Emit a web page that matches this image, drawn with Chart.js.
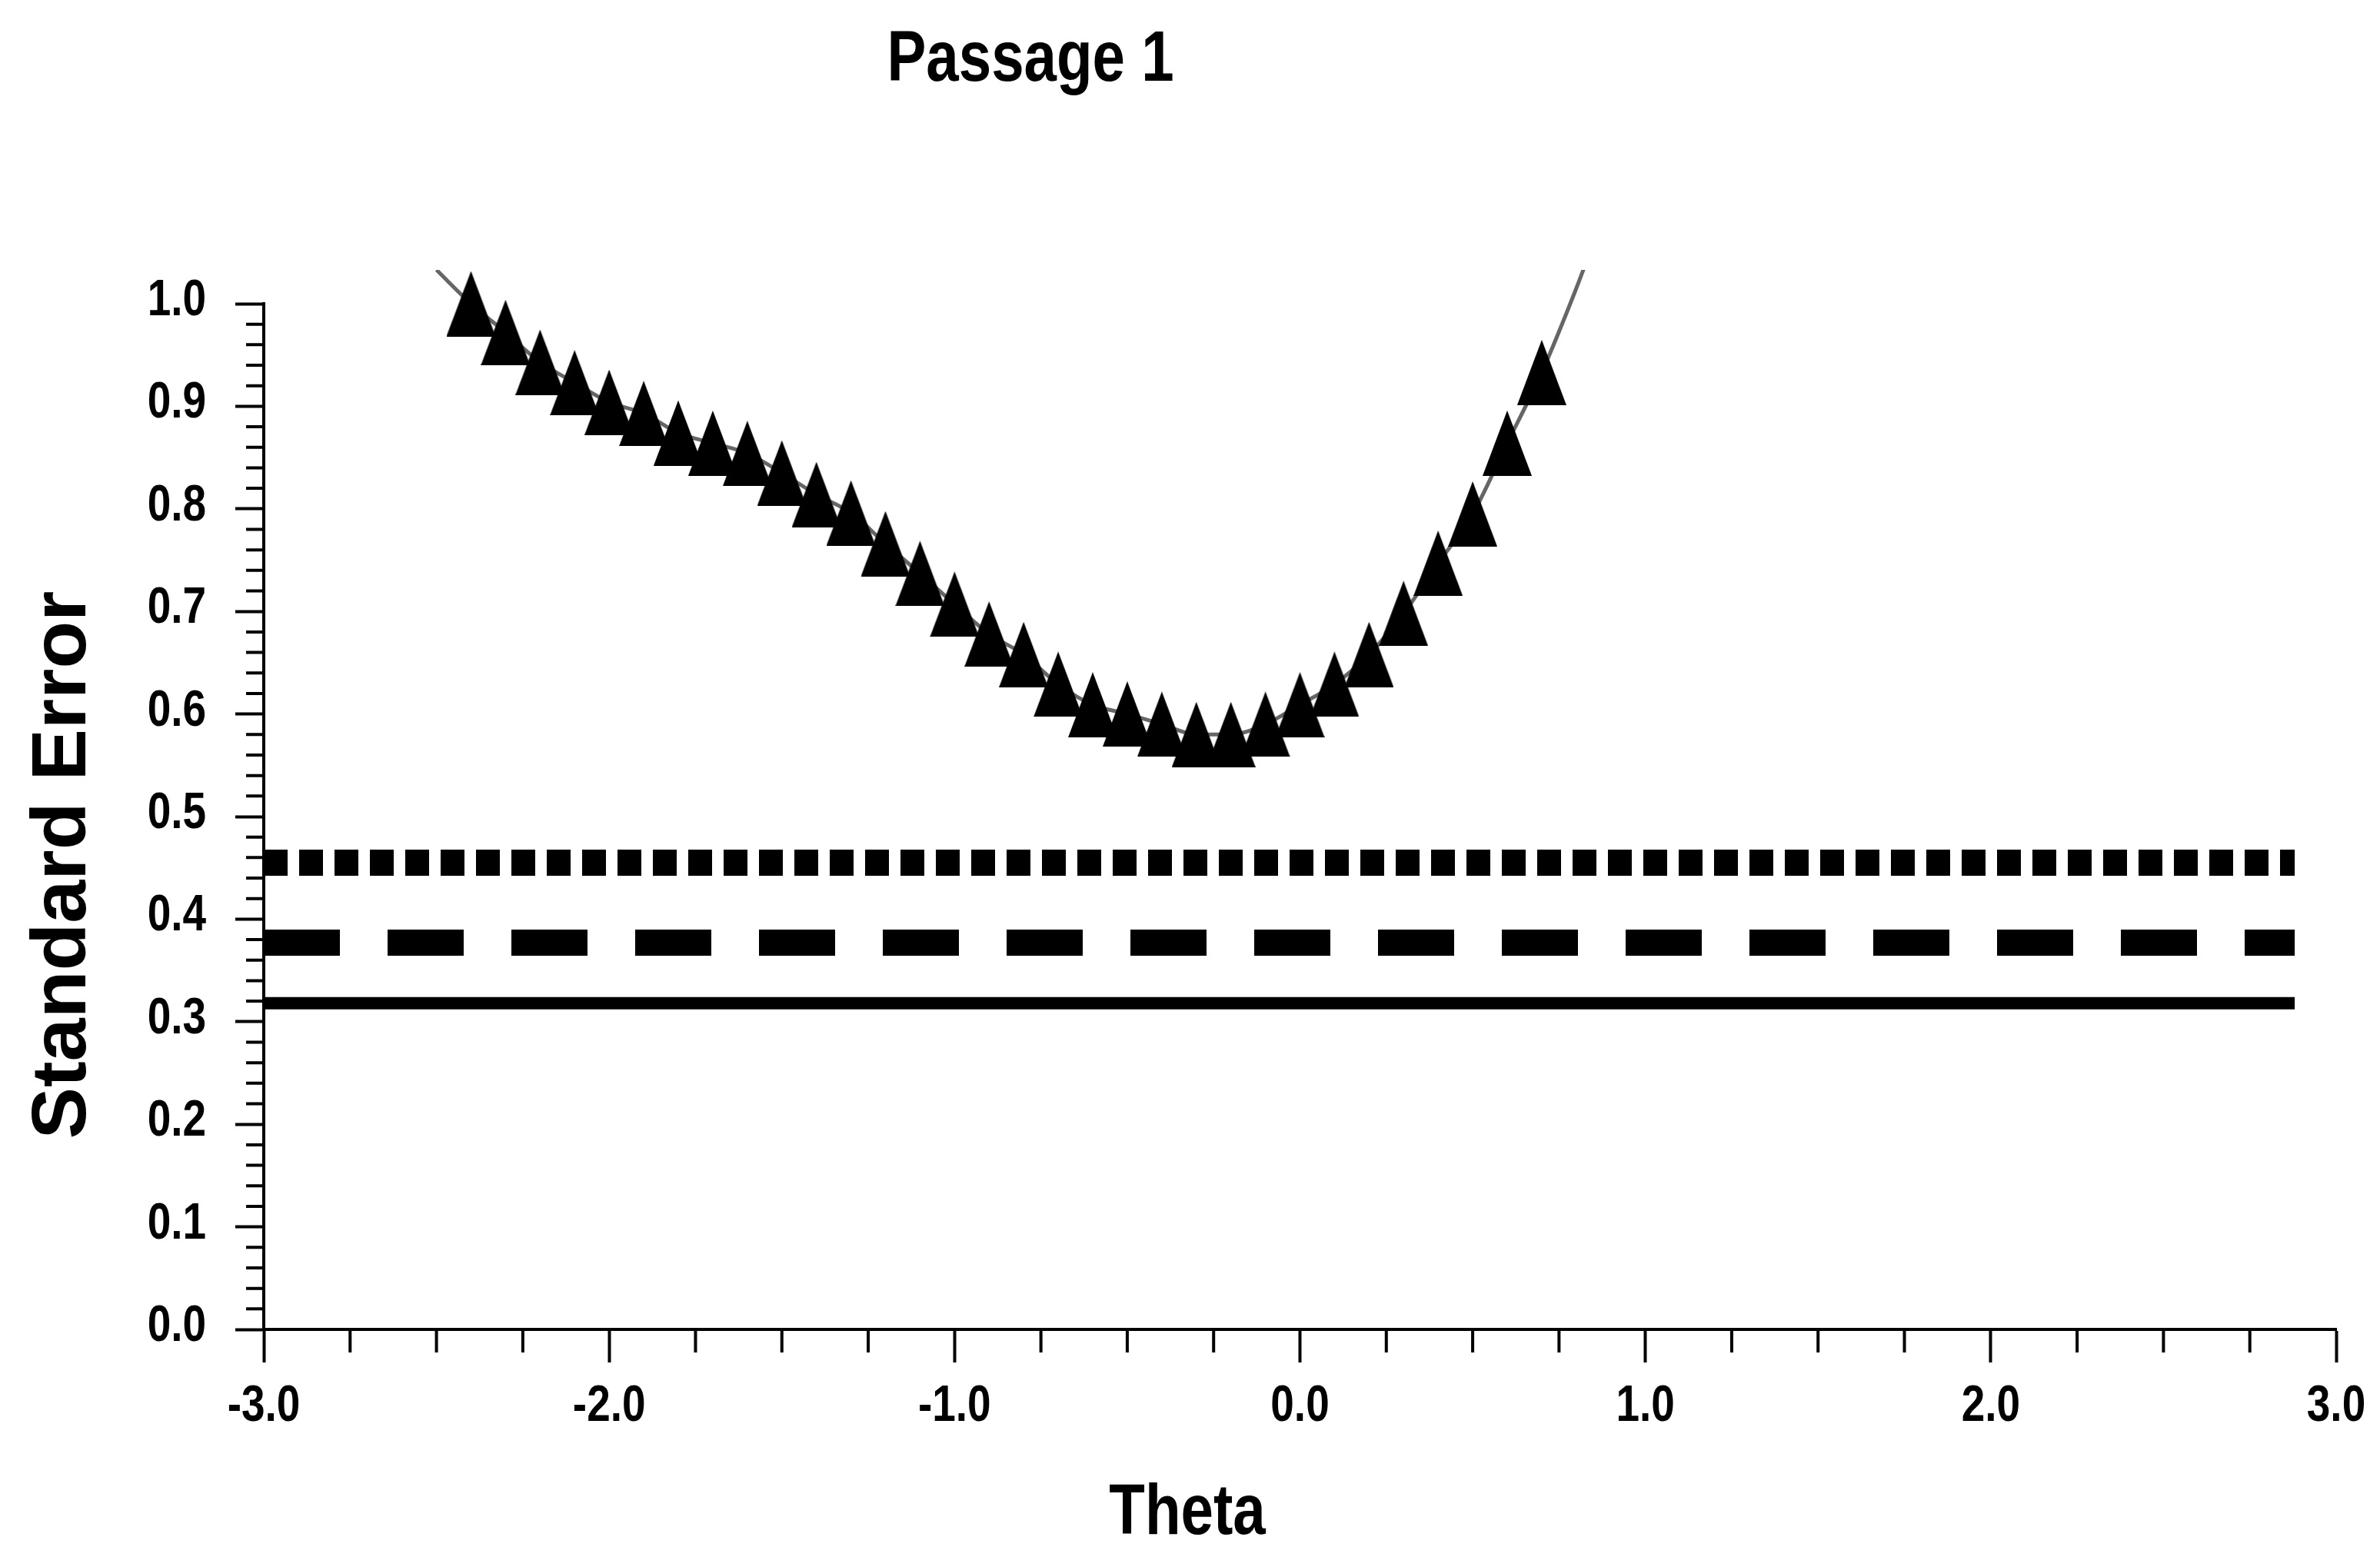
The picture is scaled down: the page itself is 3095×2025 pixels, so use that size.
<!DOCTYPE html>
<html lang="en">
<head>
    <meta charset="UTF-8">
    <title>Passage 1</title>
    <script src="https://cdn.jsdelivr.net/npm/chart.js@4.4.1/dist/chart.umd.min.js"></script>
    <style>
        body { margin: 0; background: #fff; }
        #chart { display: block; }
    </style>
</head>
<body>
    <canvas id="chart" width="3095" height="2025"></canvas>

    <script>
    // standard error of the passage at each theta (triangle markers)
    const thetas = [-2.4, -2.3, -2.2, -2.1, -2.0, -1.9, -1.8, -1.7, -1.6, -1.5, -1.4, -1.3, -1.2, -1.1, -1.0, -0.9,
                    -0.8, -0.7, -0.6, -0.5, -0.4, -0.3, -0.2, -0.1, 0.0, 0.1, 0.2, 0.3, 0.4, 0.5, 0.6, 0.7];
    const stdErrors = [1.000, 0.972, 0.943, 0.923, 0.904, 0.893, 0.874, 0.864, 0.854, 0.835, 0.814, 0.796, 0.766, 0.737, 0.707, 0.678,
                       0.658, 0.629, 0.609, 0.600, 0.590, 0.580, 0.580, 0.590, 0.609, 0.629, 0.658, 0.698, 0.747, 0.795, 0.864, 0.933];

    // the thin curve runs on a little past the markers at both ends
    const curveHeadTheta = [-2.5];
    const curveHeadError = [1.033];
    const curveTailTheta = [0.8, 0.85];
    const curveTailError = [1.015, 1.06];

    // flat reference levels: dotted, dashed, solid
    const refLevels = [0.455, 0.377, 0.318];
    const refRange = [-3.0, 2.88];

    const xTicks = [-3, -2, -1, 0, 1, 2, 3];

    const FONT = "'Liberation Sans', Arial, sans-serif";
    const SQUEEZE = 0.82;   // narrow face look

    const toPoints = (xs, ys) => xs.map((x, i) => ({ x: x, y: ys[i] }));
    const markerPts = toPoints(thetas, stdErrors);
    const curvePts = toPoints(curveHeadTheta, curveHeadError)
        .concat(markerPts, toPoints(curveTailTheta, curveTailError));
    const flat = level => refRange.map(x => ({ x: x, y: level }));

    // solid triangle marker, a bit taller than wide
    const tri = document.createElement('canvas');
    tri.width = 64;
    tri.height = 85;
    const tctx = tri.getContext('2d');
    tctx.fillStyle = '#000';
    tctx.beginPath();
    tctx.moveTo(32, 0);
    tctx.lineTo(64, 85);
    tctx.lineTo(0, 85);
    tctx.closePath();
    tctx.fill();

    const overTop = { left: 0, top: 44, right: 0, bottom: 0 };

    function narrowText(ctx, text, x, y, align) {
        ctx.save();
        ctx.translate(x, y);
        ctx.scale(SQUEEZE, 1);
        ctx.textAlign = align;
        ctx.fillText(text, 0, 0);
        ctx.restore();
    }

    // short minor ticks between the labelled ones
    const minorTicks = {
        id: 'minorTicks',
        afterDraw(chart) {
            const { ctx, chartArea } = chart;
            const x = chart.scales.x, y = chart.scales.y;
            ctx.save();
            ctx.strokeStyle = '#000';
            ctx.lineWidth = 4;
            ctx.beginPath();
            for (let k = 1; k < 50; k++) {
                if (k % 5 === 0) continue;
                const py = y.getPixelForValue(k * 0.02);
                ctx.moveTo(chartArea.left - 23, py);
                ctx.lineTo(chartArea.left, py);
            }
            for (let k = -11; k < 12; k++) {
                if (k % 4 === 0) continue;
                const px = x.getPixelForValue(k * 0.25);
                ctx.moveTo(px, chartArea.bottom);
                ctx.lineTo(px, chartArea.bottom + 30);
            }
            ctx.stroke();
            ctx.restore();
        }
    };

    // tick numbers in a narrow bold face, plus heading and axis names
    const captions = {
        id: 'captions',
        afterDraw(chart) {
            const { ctx, chartArea } = chart;
            const x = chart.scales.x, y = chart.scales.y;
            ctx.save();
            ctx.fillStyle = '#000';
            ctx.textBaseline = 'alphabetic';

            ctx.font = 'bold 67px ' + FONT;
            y.ticks.forEach(t => {
                narrowText(ctx, t.value.toFixed(1), chartArea.left - 75, y.getPixelForValue(t.value) + 15, 'right');
            });
            x.ticks.forEach(t => {
                narrowText(ctx, t.value.toFixed(1), x.getPixelForValue(t.value), chartArea.bottom + 119, 'center');
            });

            ctx.font = 'bold 93px ' + FONT;
            narrowText(ctx, 'Passage 1', 1340, 105, 'center');
            narrowText(ctx, 'Theta', 1544, 1995, 'center');

            ctx.translate(111, 1125);
            ctx.rotate(-Math.PI / 2);
            ctx.font = 'bold 101px ' + FONT;
            ctx.textAlign = 'center';
            ctx.fillText('Standard Error', 0, 0);
            ctx.restore();
        }
    };

    new Chart(document.getElementById('chart'), {
        type: 'scatter',
        data: {
            datasets: [
                {
                    data: markerPts,
                    pointStyle: tri,
                    pointRadius: 40,
                    clip: overTop
                },
                {
                    data: curvePts,
                    showLine: true,
                    borderColor: '#666',
                    borderWidth: 5,
                    cubicInterpolationMode: 'monotone',
                    pointRadius: 0,
                    clip: overTop
                },
                {
                    data: flat(refLevels[0]),
                    showLine: true,
                    borderColor: '#000',
                    borderWidth: 34,
                    borderDash: [31, 15],
                    borderCapStyle: 'butt',
                    pointRadius: 0
                },
                {
                    data: flat(refLevels[1]),
                    showLine: true,
                    borderColor: '#000',
                    borderWidth: 34,
                    borderDash: [99, 62],
                    borderCapStyle: 'butt',
                    pointRadius: 0
                },
                {
                    data: flat(refLevels[2]),
                    showLine: true,
                    borderColor: '#000',
                    borderWidth: 16,
                    borderCapStyle: 'butt',
                    pointRadius: 0
                }
            ]
        },
        options: {
            responsive: false,
            animation: false,
            devicePixelRatio: 1,
            layout: { padding: { top: 395, right: 57, left: 0, bottom: 0 } },
            plugins: {
                legend: { display: false },
                tooltip: { enabled: false }
            },
            scales: {
                x: {
                    type: 'linear',
                    min: -3,
                    max: 3,
                    afterBuildTicks: scale => { scale.ticks = xTicks.map(v => ({ value: v })); },
                    afterFit: scale => { scale.height = 296; },
                    border: { color: '#000', width: 4 },
                    grid: { drawOnChartArea: false, tickLength: 43, tickWidth: 4, tickColor: '#000' },
                    ticks: { display: false }
                },
                y: {
                    min: 0,
                    max: 1.0,
                    afterFit: scale => { scale.width = 343; },
                    border: { color: '#000', width: 4 },
                    grid: { drawOnChartArea: false, tickLength: 37, tickWidth: 4, tickColor: '#000' },
                    ticks: { display: false, stepSize: 0.1 }
                }
            }
        },
        plugins: [minorTicks, captions]
    });
    </script>
</body>
</html>
